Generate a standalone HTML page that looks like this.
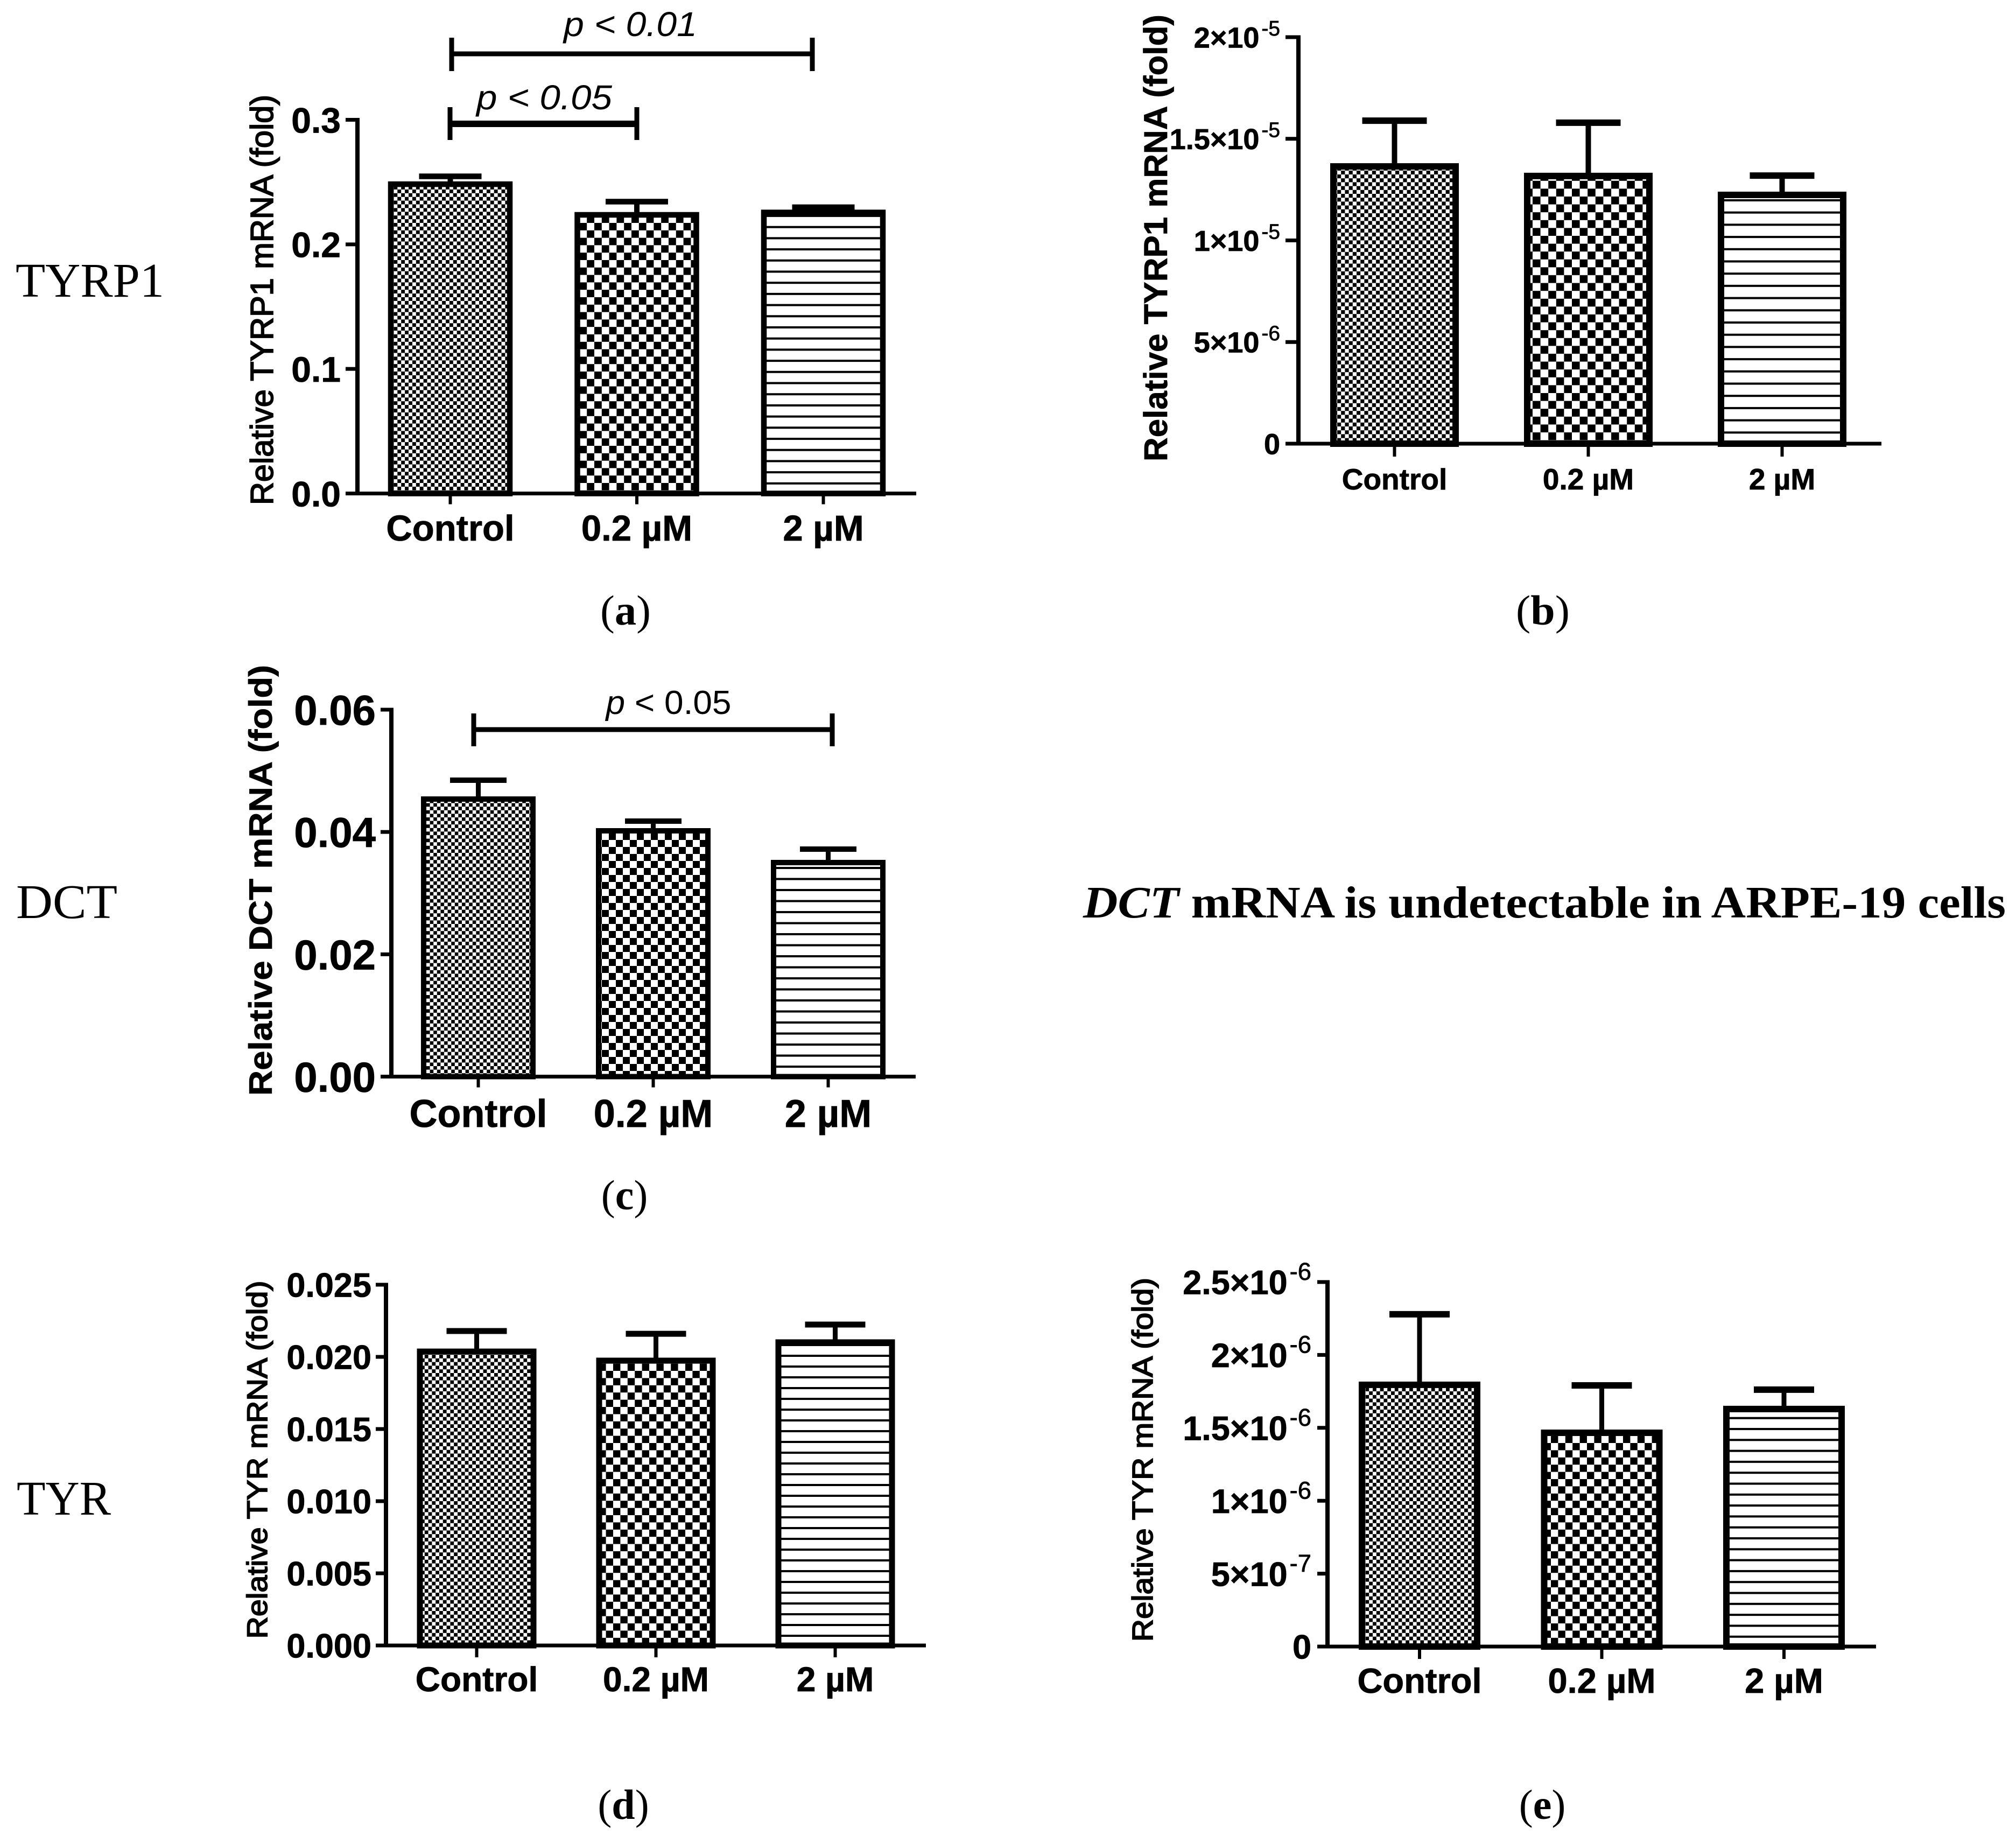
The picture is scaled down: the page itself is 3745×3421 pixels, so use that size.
<!DOCTYPE html>
<html lang="en">
<head>
<meta charset="utf-8">
<title>Relative mRNA expression bar charts</title>
<style>
html,body{margin:0;padding:0;background:#fff;width:3745px;height:3421px;overflow:hidden}
svg{display:block}
.sans{font-family:"Liberation Sans",sans-serif}
.serif{font-family:"Liberation Serif",serif}
</style>
</head>
<body>
<svg id="figure" xmlns="http://www.w3.org/2000/svg" width="3745" height="3421" viewBox="0 0 3745 3421">
<rect x="0" y="0" width="3745" height="3421" fill="#fff"/>
<defs id="defs"></defs>

<text class="serif" x="29" y="551" font-size="90" textLength="276" lengthAdjust="spacingAndGlyphs">TYRP1</text>
<text class="serif" x="30" y="1705" font-size="90" textLength="188" lengthAdjust="spacingAndGlyphs">DCT</text>
<text class="serif" x="31" y="2813" font-size="90" textLength="175" lengthAdjust="spacingAndGlyphs">TYR</text>

<text class="serif" x="1162" y="1160" font-size="78" text-anchor="middle" textLength="94" lengthAdjust="spacingAndGlyphs">(<tspan font-weight="bold">a</tspan>)</text>
<text class="serif" x="2866" y="1160" font-size="78" text-anchor="middle" textLength="100" lengthAdjust="spacingAndGlyphs">(<tspan font-weight="bold">b</tspan>)</text>
<text class="serif" x="1160" y="2246" font-size="78" text-anchor="middle">(<tspan font-weight="bold">c</tspan>)</text>
<text class="serif" x="1158" y="3378" font-size="78" text-anchor="middle">(<tspan font-weight="bold">d</tspan>)</text>
<text class="serif" x="2865" y="3378" font-size="78" text-anchor="middle">(<tspan font-weight="bold">e</tspan>)</text>

<text class="serif" x="2012" y="1704" font-size="84" font-weight="bold" textLength="1714" lengthAdjust="spacingAndGlyphs"><tspan font-style="italic">DCT</tspan> mRNA is undetectable in ARPE-19 cells</text>

<g stroke="#000" fill="none">
<path d="M839 100H1509" stroke-width="9"/><path d="M839 70V132M1509 70V132" stroke-width="9"/>
</g>
<text class="sans" x="1171" y="67" font-size="64" font-style="italic" text-anchor="middle" textLength="248" lengthAdjust="spacingAndGlyphs">p &lt; 0.01</text>
<g stroke="#000" fill="none">
<path d="M836 230H1183" stroke-width="12"/><path d="M836 199V260M1183 199V260" stroke-width="9"/>
</g>
<text class="sans" x="1011" y="203" font-size="64" font-style="italic" text-anchor="middle" textLength="252" lengthAdjust="spacingAndGlyphs">p &lt; 0.05</text>
<g stroke="#000" fill="none">
<path d="M880 1355H1546" stroke-width="9"/><path d="M880 1325V1386M1546 1325V1386" stroke-width="9"/>
</g>
<text class="sans" x="1242" y="1326" font-size="62" text-anchor="middle" textLength="233" lengthAdjust="spacingAndGlyphs"><tspan font-style="italic">p</tspan> &lt; 0.05</text>
</svg>

<script>
var categories = ['Control', '0.2 µM', '2 µM'];

var aMeans = [0.2483, 0.2237, 0.2256];
var aErrTops = [0.2546, 0.2343, 0.2298];
var aTickValues = [0, 0.1, 0.2, 0.3];
var aTickLabels = ['0.0', '0.1', '0.2', '0.3'];

var bMeans = [1.364e-5, 1.317e-5, 1.224e-5];
var bErrTops = [1.589e-5, 1.579e-5, 1.319e-5];
var bTickValues = [0, 5e-6, 1e-5, 1.5e-5, 2e-5];
var bTickLabels = ['0', '5×10^-6', '1×10^-5', '1.5×10^-5', '2×10^-5'];

var cMeans = [0.04538, 0.04019, 0.035];
var cErrTops = [0.04847, 0.04178, 0.0372];
var cTickValues = [0, 0.02, 0.04, 0.06];
var cTickLabels = ['0.00', '0.02', '0.04', '0.06'];

var dMeans = [0.02037, 0.01974, 0.02101];
var dErrTops = [0.02179, 0.0216, 0.02224];
var dTickValues = [0, 0.005, 0.01, 0.015, 0.02, 0.025];
var dTickLabels = ['0.000', '0.005', '0.010', '0.015', '0.020', '0.025'];

var eMeans = [1.795e-6, 1.466e-6, 1.629e-6];
var eErrTops = [2.279e-6, 1.791e-6, 1.762e-6];
var eTickValues = [0, 5e-7, 1e-6, 1.5e-6, 2e-6, 2.5e-6];
var eTickLabels = ['0', '5×10^-7', '1×10^-6', '1.5×10^-6', '2×10^-6', '2.5×10^-6'];

var NS = 'http://www.w3.org/2000/svg';
var root = document.getElementById('figure');
var defs = document.getElementById('defs');

function mk(tag, attrs, parent) {
  var n = document.createElementNS(NS, tag);
  for (var k in attrs) n.setAttribute(k, attrs[k]);
  parent.appendChild(n);
  return n;
}

function addPatterns(id, fine, coarse, period, lineW, y0) {
  var p1 = mk('pattern', {id: id + '-fine', patternUnits: 'userSpaceOnUse', width: fine * 2, height: fine * 2}, defs);
  mk('rect', {x: 0, y: 0, width: fine * 2, height: fine * 2, fill: '#fff'}, p1);
  mk('rect', {x: 0, y: 0, width: fine, height: fine, fill: '#000'}, p1);
  mk('rect', {x: fine, y: fine, width: fine, height: fine, fill: '#000'}, p1);
  var p2 = mk('pattern', {id: id + '-coarse', patternUnits: 'userSpaceOnUse', width: coarse * 2, height: coarse * 2}, defs);
  mk('rect', {x: 0, y: 0, width: coarse * 2, height: coarse * 2, fill: '#fff'}, p2);
  mk('rect', {x: 0, y: 0, width: coarse, height: coarse, fill: '#000'}, p2);
  mk('rect', {x: coarse, y: coarse, width: coarse, height: coarse, fill: '#000'}, p2);
  var p3 = mk('pattern', {id: id + '-lines', patternUnits: 'userSpaceOnUse', width: 40, height: period, patternTransform: 'translate(0,' + y0 + ')'}, defs);
  mk('rect', {x: 0, y: 0, width: 40, height: period, fill: '#fff'}, p3);
  mk('rect', {x: 0, y: 0, width: 40, height: lineW, fill: '#000'}, p3);
}

function drawPanel(L, means, errTops, tickValues, tickLabels, title) {
  addPatterns(L.id, L.fine, L.coarse, L.period, L.lineW, L.y0);
  var g = mk('g', {}, root);
  
  
  var maxV = tickValues[tickValues.length - 1];
  function yScale(v) { return L.y0 - (v / maxV) * (L.y0 - L.yTop); }
  function xScale(i) { return L.x0 + i * L.step; }
  var fills = ['fine', 'coarse', 'lines'];

  categories.forEach(function (cat, i) {
    var cx = xScale(i);
    var stem = mk('line', {x1: cx, x2: cx, y1: yScale(means[i]), y2: yScale(errTops[i]), stroke: '#000', 'stroke-width': L.stem}, g);
    
    
    var cap = mk('line', {x1: cx - L.cap / 2, x2: cx + L.cap / 2, y1: yScale(errTops[i]), y2: yScale(errTops[i]), stroke: '#000', 'stroke-width': L.sw}, g);
    
    
    var top = yScale(means[i]);
    var bar = mk('rect', {x: cx - L.bw / 2, y: top, width: L.bw, height: L.y0 - top, fill: 'url(#' + L.id + '-' + fills[i] + ')', stroke: '#000', 'stroke-width': L.sw}, g);
    
    

    var tick = mk('line', {x1: cx, x2: cx, y1: L.y0, y2: L.y0 + L.tickLen, stroke: '#000', 'stroke-width': 6}, g);
    
    
    var lab = mk('text', {x: cx, y: L.xLabelY, 'font-size': L.xFont, 'font-weight': 'bold', 'text-anchor': 'middle', 'class': 'sans', stroke: '#000', 'stroke-width': 0.8}, g);
    lab.textContent = cat;
    
    
  });

  var yAxis = mk('line', {x1: L.axisX, x2: L.axisX, y1: L.yTop - 3.5, y2: L.y0, stroke: '#000', 'stroke-width': 8}, g);
  
  
  var xAxis = mk('line', {x1: L.axisLeft, x2: L.axisRight, y1: L.y0, y2: L.y0, stroke: '#000', 'stroke-width': 7}, g);
  
  

  tickValues.forEach(function (v, i) {
    var y = yScale(v);
    var t = mk('line', {x1: L.axisLeft, x2: L.axisX, y1: y, y2: y, stroke: '#000', 'stroke-width': 7}, g);
    
    
    var parts = tickLabels[i].split('^');
    var lab = mk('text', {x: L.yLabelX, y: y + L.yFont * 0.36, 'font-size': L.yFont, 'font-weight': 'bold', 'text-anchor': 'end', 'class': 'sans', stroke: '#000', 'stroke-width': 0.8}, g);
    
    
    var s1 = mk('tspan', {}, lab);
    s1.textContent = parts[0];
    if (parts[1]) {
      var s2 = mk('tspan', {'font-size': L.yFont * 0.72, dy: -L.yFont * 0.42, dx: 4, 'font-weight': 'normal'}, lab);
      s2.textContent = parts[1];
    }
  });

  var ttl = mk('text', {transform: 'translate(' + L.titleX + ',' + L.titleY + ') rotate(-90)', 'font-size': L.titleFont, 'font-weight': L.titleWeight, 'text-anchor': 'middle', textLength: L.titleLen, lengthAdjust: 'spacingAndGlyphs', 'class': 'sans', stroke: '#000', 'stroke-width': L.titleStroke}, g);
  ttl.textContent = title;
  
  
}

drawPanel({id: 'a', x0: 836.5, step: 346.5, bw: 221, sw: 10.5, stem: 10, cap: 116, y0: 916.5, yTop: 222.5, axisX: 664, axisLeft: 642, axisRight: 1702, tickLen: 20, xLabelY: 1004, xFont: 67, yLabelX: 633, yFont: 66, titleX: 507, titleY: 557, titleFont: 59, titleWeight: 'normal', titleLen: 762, titleStroke: 1.8, fine: 6.9, coarse: 13.8, period: 20.7, lineW: 4},
  aMeans, aErrTops, aTickValues, aTickLabels, 'Relative TYRP1 mRNA (fold)');

drawPanel({id: 'b', x0: 2590.5, step: 360, bw: 227, sw: 12, stem: 10, cap: 120, y0: 824, yTop: 69, axisX: 2412, axisLeft: 2388, axisRight: 3495, tickLen: 24, xLabelY: 909, xFont: 55, yLabelX: 2378, yFont: 54, titleX: 2168, titleY: 442, titleFont: 61, titleWeight: 'bold', titleLen: 830, titleStroke: 0.8, fine: 7.2, coarse: 14.6, period: 22.7, lineW: 4},
  bMeans, bErrTops, bTickValues, bTickLabels, 'Relative TYRP1 mRNA (fold)');

drawPanel({id: 'c', x0: 888.5, step: 325, bw: 203, sw: 10, stem: 9, cap: 105, y0: 1999.5, yTop: 1318, axisX: 727, axisLeft: 707, axisRight: 1701, tickLen: 20, xLabelY: 2093, xFont: 72, yLabelX: 698, yFont: 78, titleX: 505, titleY: 1635, titleFont: 60, titleWeight: 'bold', titleLen: 800, titleStroke: 0.8, fine: 6.6, coarse: 13, period: 20.5, lineW: 4},
  cMeans, cErrTops, cTickValues, cTickLabels, 'Relative DCT mRNA (fold)');

drawPanel({id: 'd', x0: 885.5, step: 333, bw: 211, sw: 11, stem: 9, cap: 112, y0: 3056, yTop: 2386, axisX: 717, axisLeft: 698, axisRight: 1720, tickLen: 22, xLabelY: 3141, xFont: 64, yLabelX: 690, yFont: 63, titleX: 496, titleY: 2711, titleFont: 53, titleWeight: 'normal', titleLen: 665, titleStroke: 1.8, fine: 6.8, coarse: 13.4, period: 20, lineW: 4},
  dMeans, dErrTops, dTickValues, dTickLabels, 'Relative TYR mRNA (fold)');

drawPanel({id: 'e', x0: 2637, step: 338.5, bw: 214, sw: 12, stem: 9, cap: 112, y0: 3058, yTop: 2381, axisX: 2466, axisLeft: 2447, axisRight: 3485, tickLen: 23, xLabelY: 3144, xFont: 65, yLabelX: 2436, yFont: 63, titleX: 2141, titleY: 2711, titleFont: 54, titleWeight: 'normal', titleLen: 676, titleStroke: 1.8, fine: 6.8, coarse: 13.4, period: 20.3, lineW: 4},
  eMeans, eErrTops, eTickValues, eTickLabels, 'Relative TYR mRNA (fold)');
</script>
</body>
</html>
